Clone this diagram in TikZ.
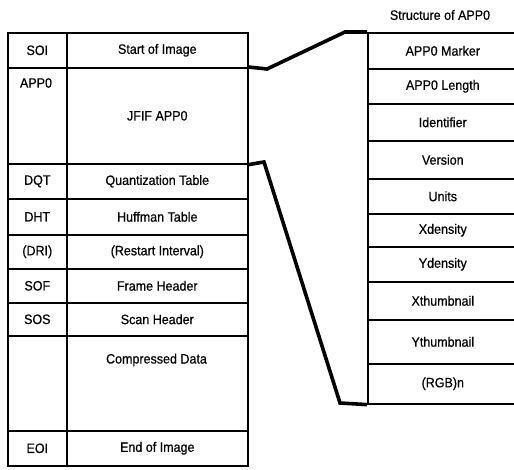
\documentclass[tikz,border=0pt]{standalone}
\usepackage{fontspec}
\setmainfont[FakeStretch=0.92,FakeBold=0.6]{Liberation Sans}
\begin{document}
\begin{tikzpicture}[x=1pt,y=-1pt,
  cell/.style={draw=black, line width=1.6pt, rectangle, inner sep=0pt, anchor=north west,
    font=\fontsize{13.6}{15}\selectfont},
  conn/.style={line width=3.6pt, line join=miter},
  lbl/.style={inner sep=0pt, font=\fontsize{13.6}{15}\selectfont}]
\useasboundingbox (0,0) rectangle (514,469);
% left table: x 7 | 66 | 247
\newcommand{\lrow}[5]{%
  \node[cell, minimum width=59pt, minimum height=#3pt] (#1a) at (7,#2) {#4};
  \node[cell, minimum width=181pt, minimum height=#3pt] (#1b) at (66,#2) {#5};}
\lrow{soi}{32}{35}{SOI}{Start of Image}
\node[cell, minimum width=59pt, minimum height=96pt] (appa) at (7,67) {};
\node[cell, minimum width=181pt, minimum height=96pt] (appb) at (66,67) {JFIF APP0};
\node[lbl] (applbl) at (36,83) {APP0};
\lrow{dqt}{163}{35}{DQT}{Quantization Table}
\lrow{dht}{198}{36}{DHT}{Huffman Table}
\lrow{dri}{234}{34}{(DRI)}{(Restart Interval)}
\lrow{sof}{268}{34}{SOF}{Frame Header}
\lrow{sos}{302}{33}{SOS}{Scan Header}
\node[cell, minimum width=59pt, minimum height=95pt] (cda) at (7,335) {};
\node[cell, minimum width=181pt, minimum height=95pt] (cdb) at (66,335) {};
\node[lbl] (cdlbl) at (156.5,360) {Compressed Data};
\lrow{eoi}{430}{35}{EOI}{End of Image}
% right table
\node[lbl] (title) at (440,15) {Structure of APP0};
\newcommand{\rrow}[4]{%
  \node[cell, minimum width=150pt, minimum height=#3pt] (#1) at (367,#2) {#4};}
\rrow{r1}{32}{36}{APP0 Marker}
\rrow{r2}{68}{35}{APP0 Length}
\rrow{r3}{103}{37}{Identifier}
\rrow{r4}{140}{38}{Version}
\rrow{r5}{178}{35}{Units}
\rrow{r6}{213}{33}{Xdensity}
\rrow{r7}{246}{35}{Ydensity}
\rrow{r8}{281}{38}{Xthumbnail}
\rrow{r9}{319}{44}{Ythumbnail}
\rrow{r10}{363}{40}{(RGB)n}
% connectors
\coordinate (u1) at (267,69);
\coordinate (u2) at (345,32);
\coordinate (l1) at (264,162);
\coordinate (l2) at (340,403);
\draw[conn] (appb.north east) -- (u1) -- (u2) -- (r1.north west);
\draw[conn] (appb.south east) -- (l1) -- (l2) -- (r10.south west);
\end{tikzpicture}
\end{document}
